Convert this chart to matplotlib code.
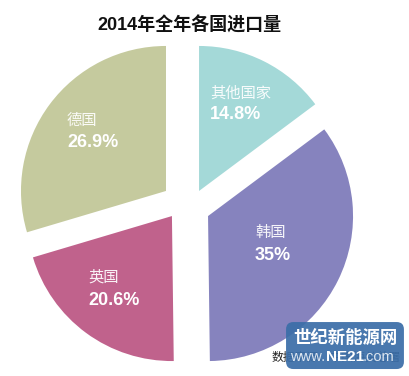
import matplotlib
matplotlib.use("Agg")
import matplotlib.pyplot as plt
from matplotlib.patches import FancyBboxPatch

plt.rcParams['font.family'] = ['Liberation Sans', 'Noto Sans CJK SC', 'DejaVu Sans']

# data, clockwise from 12 o'clock
countries = ['其他国家', '韩国', '英国', '德国']
shares = [14.8, 35, 20.6, 26.9]
share_labels = ['14.8%', '35%', '20.6%', '26.9%']
colors = ['#a4d9d8', '#8683be', '#c0628c', '#c5ca9e']

# the designer let Germany fill what the listed shares leave over
sizes = shares[:-1] + [100 - sum(shares[:-1])]

# cross-shaped cut: each slice pushed out on its own (radius units)
shifts = [(0.09, 0.083), (0.152, -0.09), (-0.097, -0.09), (-0.138, 0.083)]
# label anchor (left edge, name row / percent row)
label_pos = [(0.166, 0.759, 0.607), (0.476, -0.20, -0.359),
             (-0.676, -0.51, -0.669), (-0.821, 0.572, 0.414)]

fig = plt.figure(figsize=(4.10, 3.76), dpi=100)
ax = fig.add_axes([0, 0, 1, 1])

wedges, _ = ax.pie(sizes, colors=colors, startangle=90, counterclock=False,
                   radius=1.0, wedgeprops=dict(linewidth=0))
for w, (dx, dy) in zip(wedges, shifts):
    w.set_center((dx, dy))

for name, pct, (lx, ny, py) in zip(countries, share_labels, label_pos):
    ax.text(lx, ny, name, color='white', alpha=0.92, fontsize=11,
            family=['Noto Sans CJK SC'], weight='light', ha='left', va='center')
    ax.text(lx, py, pct, color='white', fontsize=13, weight='bold',
            ha='left', va='center')

# pixel-matched frame: centre at (186, 203) px, radius 145 px
ax.set_xlim(-186 / 145, (410 - 186) / 145)
ax.set_ylim((203 - 376) / 145, 203 / 145)
ax.set_aspect('equal')
ax.axis('off')

fig.text(189 / 410, 1 - 25 / 376, '2014年全年各国进口量', fontsize=13,
         weight='bold', ha='center', va='center', color='#111111')

# source line, mostly hidden by the site watermark
ax.text(0.593, -1.062, '数据来源：中国海关总署', fontsize=8.5, color='#222222',
        family=['Noto Sans CJK SC'], ha='left', va='center')

box = FancyBboxPatch((0.72, -1.115), 0.753, 0.264,
                     boxstyle='round,pad=0.03,rounding_size=0.05',
                     facecolor='#3b6ea8', edgecolor='none', alpha=0.93, zorder=5)
ax.add_patch(box)
ax.text(1.097, -0.931, '世纪新能源网', fontsize=12.5, weight='bold', color='white',
        family=['Noto Sans CJK SC'], ha='center', va='center', zorder=6)
ax.text(0.959, -1.062, 'www.', fontsize=10.5, color='#dde6f0',
        ha='right', va='center', zorder=6)
ax.text(1.097, -1.062, 'NE21', fontsize=11, weight='bold', color='white',
        ha='center', va='center', zorder=6)
ax.text(1.221, -1.062, '.com', fontsize=10.5, color='#dde6f0',
        ha='left', va='center', zorder=6)

fig.savefig('out.png', dpi=100)
